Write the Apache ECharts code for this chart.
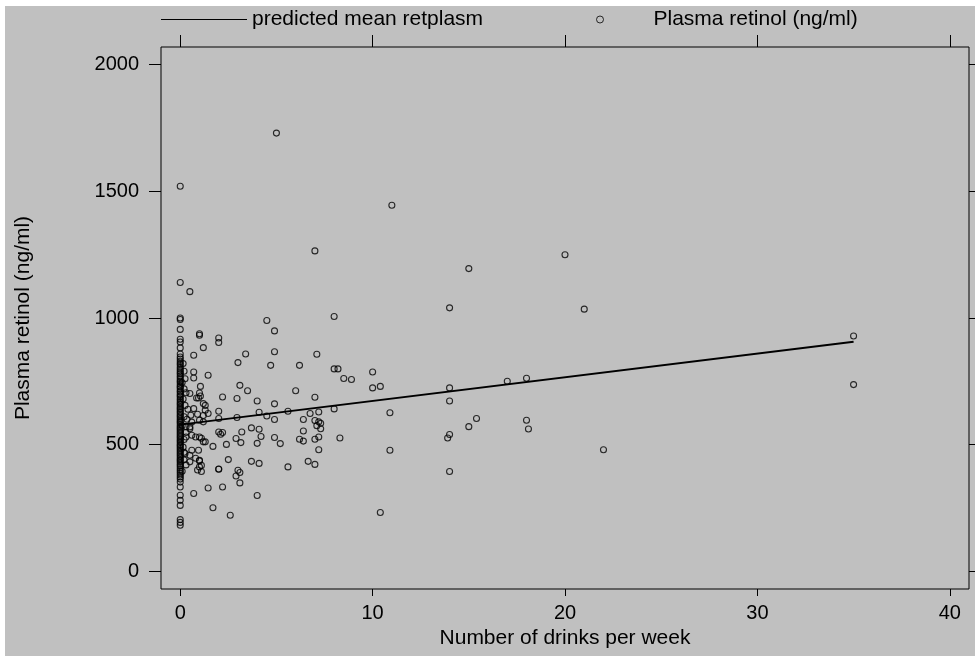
<!DOCTYPE html>
<html>
<head>
<meta charset="utf-8">
<script src="https://cdn.jsdelivr.net/npm/echarts@6/dist/echarts.min.js"></script>
<style>
html,body{margin:0;padding:0;background:#fff;width:975px;height:656px;overflow:hidden;}
#main{position:absolute;left:5px;top:6px;width:970px;height:650px;}
</style>
</head>
<body>
<div id="main"></div>
<script>
// ---- data ----
const xTicks = [0, 10, 20, 30, 40];
const yTicks = [0, 500, 1000, 1500, 2000];

// observations with 0 drinks per week
const zeroDrinkRetinol = [1520, 1140, 1000, 994, 955, 916, 905, 882, 858, 846, 838, 829, 821, 815, 806, 798, 791, 784,
  779, 771, 765, 757, 750, 746, 738, 731, 727, 720, 712, 708, 700, 694, 689, 681, 675, 668, 662, 657, 650, 644, 639,
  632, 627, 620, 614, 609, 602, 596, 590, 586, 579, 572, 566, 561, 555, 549, 543, 537, 531, 526, 519, 514, 508, 501,
  496, 490, 484, 478, 472, 466, 460, 454, 447, 441, 436, 430, 423, 417, 410, 402, 395, 388, 380, 372, 364, 352, 333,
  300, 280, 260, 204, 193, 182];

// light drinkers (under 3 per week)
const lightDrinks = [0.15, 0.2, 0.25, 0.1, 0.2, 0.3, 0.15, 0.25, 0.2, 0.1, 0.3, 0.2, 0.15, 0.25, 0.2, 0.3, 0.1, 0.2,
  0.5, 0.7, 0.7, 0.7, 1, 1, 2, 2, 1.2, 1.45, 1.05, 2.2, 0.5, 1, 1.05, 0.95, 0.85, 1.2, 1.3, 1.3, 0.7, 0.55, 1.45, 2, 2,
  1, 0.6, 0.5, 0.5, 2.1, 2.2, 2, 1.3, 1.2, 1.7, 0.6, 0.95, 0.6, 0.8, 1, 1.1, 0.5, 0.8, 0.5, 1, 1, 1.1, 1, 0.9, 1.1, 2,
  2, 1.45, 2.2, 0.7, 1.7, 1.2, 1.2, 0.9, 0.3, 0.3, 0.35, 0.4, 2.5, 2.4, 2.6, 2.95, 2.95, 2.9];
const lightRetinol = [820, 790, 760, 745, 720, 705, 680, 655, 610, 575, 548, 520, 490, 465, 440, 420, 395, 470,
  1104, 853, 787, 763, 938, 932, 921, 903, 883, 774, 730, 688, 702, 704, 692, 684, 684, 662, 655, 636, 642, 616, 623,
  632, 603, 596, 589, 570, 563, 541, 548, 550, 511, 511, 493, 478, 478, 537, 530, 530, 525, 458, 446, 432, 438, 436,
  418, 412, 400, 394, 404, 403, 329, 333, 307, 251, 590, 615, 620, 530, 571, 600, 640, 441, 501, 221, 682, 607, 524];

// moderate drinkers (3 to 9 per week)
const midDrinks = [4.9, 4.9, 3.4, 7.1, 4.7, 6.2, 8, 8.2, 8.5, 8.9, 3.5, 6, 4, 7, 4.9, 4.1, 5.6, 7.2, 6.75, 8, 4.5, 4.9,
  6.4, 7, 7.2, 7.3, 7.1, 7.3, 3.7, 4.1, 4.2, 4, 4.9, 5.2, 6.4, 6.2, 6.4, 7, 7.2, 7.2, 8.3, 3.7, 4.1, 6.65, 7, 5.6, 4,
  3, 3.1, 3.2, 3.15, 3, 3.1, 2.9, 3.1, 5, 7, 8, 4.5];
const midRetinol = [949, 867, 858, 857, 813, 813, 799, 799, 761, 757, 713, 713, 672, 687, 661, 628, 632, 629, 623, 641,
  613, 599, 599, 595, 590, 584, 575, 563, 566, 561, 532, 505, 528, 504, 554, 521, 514, 521, 530, 480, 526, 434, 426,
  434, 422, 412, 299, 824, 734, 550, 508, 399, 390, 376, 349, 1730, 1265, 1006, 990];

// heavy drinkers (10 or more per week)
const heavyDrinks = [11, 15, 20, 14, 21, 35, 35, 10, 10, 10.4, 10.9, 10.9, 10.4, 14, 14, 14, 13.9, 15, 15.4, 17, 18,
  18, 18.1, 22, 14];
const heavyRetinol = [1445, 1195, 1250, 1040, 1035, 929, 737, 787, 724, 730, 626, 478, 232, 724, 672, 540, 526, 571,
  603, 750, 762, 596, 562, 480, 394];

// predicted mean (fitted line end points)
const fitDrinks = [0, 35];
const fitRetinol = [579, 906];

// ---- build ----
const scatterData = [];
zeroDrinkRetinol.forEach(v => scatterData.push([0, v]));
[[lightDrinks, lightRetinol], [midDrinks, midRetinol], [heavyDrinks, heavyRetinol]].forEach(([xs, ys]) => {
  xs.forEach((x, i) => scatterData.push([x, ys[i]]));
});
const lineData = fitDrinks.map((x, i) => [x, fitRetinol[i]]);

const FONT = 'Liberation Sans, Arial, sans-serif';
const TXT = 21;
const TICKTXT = 20;
const plain = v => String(v);
const chart = echarts.init(document.getElementById('main'), null, {renderer: 'canvas'});
chart.setOption({
  animation: false,
  backgroundColor: '#c0c0c0',
  textStyle: {fontFamily: FONT, color: '#000'},
  grid: {left: 156, right: 6, top: 41, bottom: 67, show: true, borderColor: '#000', borderWidth: 1,
    backgroundColor: 'transparent', containLabel: false},
  legend: [
    {data: ['predicted mean retplasm'], left: 156, top: 3, icon: 'rect', itemWidth: 86, itemHeight: 1, padding: 0,
      itemStyle: {color: '#000', borderWidth: 0},
      textStyle: {fontFamily: FONT, fontSize: TXT, color: '#000'}},
    {data: ['Plasma retinol (ng/ml)'], left: 591, top: 3, icon: 'circle', itemWidth: 7, itemHeight: 7, padding: 0,
      itemStyle: {color: 'rgba(0,0,0,0)', borderColor: '#000', borderWidth: 1},
      textStyle: {fontFamily: FONT, fontSize: TXT, color: '#000', padding: [0, 0, 0, 45]}}
  ],
  xAxis: [
    {type: 'value', position: 'bottom', min: -1, max: 41,
      axisLine: {show: false, onZero: false}, splitLine: {show: false},
      axisTick: {show: true, customValues: xTicks, length: 7, lineStyle: {color: '#000', width: 1}},
      axisLabel: {customValues: xTicks, formatter: plain, color: '#000', fontSize: TICKTXT, fontFamily: FONT, margin: 14},
      name: 'Number of drinks per week', nameLocation: 'middle', nameGap: 31,
      nameTextStyle: {fontSize: TXT, color: '#000', fontFamily: FONT}},
    {type: 'value', position: 'top', min: -1, max: 41,
      axisLine: {show: false, onZero: false}, splitLine: {show: false},
      axisTick: {show: true, customValues: xTicks, length: 12, lineStyle: {color: '#000', width: 1}},
      axisLabel: {show: false}}
  ],
  yAxis: [
    {type: 'value', position: 'left', min: -70, max: 2070,
      axisLine: {show: false, onZero: false}, splitLine: {show: false},
      axisTick: {show: true, customValues: yTicks, length: 12, lineStyle: {color: '#000', width: 1}},
      axisLabel: {customValues: yTicks, formatter: plain, color: '#000', fontSize: TICKTXT, fontFamily: FONT, margin: 22},
      name: 'Plasma retinol (ng/ml)', nameLocation: 'middle', nameGap: 127, nameRotate: 90,
      nameTextStyle: {fontSize: TXT, color: '#000', fontFamily: FONT}},
    {type: 'value', position: 'right', min: -70, max: 2070,
      axisLine: {show: false, onZero: false}, splitLine: {show: false},
      axisTick: {show: true, customValues: yTicks, length: 12, lineStyle: {color: '#000', width: 1}},
      axisLabel: {show: false}}
  ],
  series: [
    {name: 'predicted mean retplasm', type: 'line', data: lineData, xAxisIndex: 0, yAxisIndex: 0,
      symbol: 'none', lineStyle: {color: '#000', width: 2}, itemStyle: {color: '#000'}, z: 5},
    {name: 'Plasma retinol (ng/ml)', type: 'scatter', data: scatterData, xAxisIndex: 0, yAxisIndex: 0,
      symbol: 'circle', symbolSize: 6,
      itemStyle: {color: 'rgba(0,0,0,0)', borderColor: '#000', borderWidth: 1.1}, z: 3}
  ]
});
</script>
</body>
</html>
